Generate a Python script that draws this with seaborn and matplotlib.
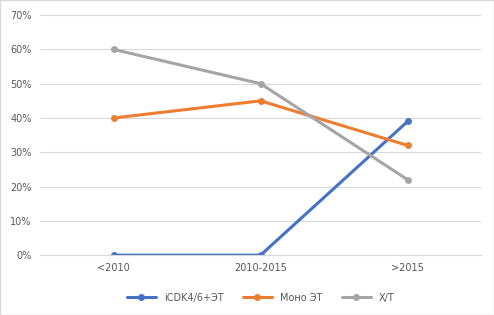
import matplotlib
matplotlib.use("Agg")
import matplotlib.pyplot as plt
import seaborn as sns
import pandas as pd
from matplotlib.ticker import PercentFormatter

# ---------------------------------------------
# Данные
# ---------------------------------------------
periods = ["<2010", "2010-2015", ">2015"]
cdk = [0, 0, 39]
mono = [40, 45, 32]
chemo = [60, 50, 22]
series_names = ["iCDK4/6+ЭТ", "Моно ЭТ", "Х/Т"]
colors = ["#4472C4", "#ED7D31", "#A5A5A5"]

df = pd.DataFrame({
    "period": periods * 3,
    "value": cdk + mono + chemo,
    "series": [s for s in series_names for _ in periods],
})

sns.set_style("white")
plt.rcParams["font.family"] = ["DejaVu Sans"]

fig = plt.figure(figsize=(4.94, 3.15), dpi=100)
ax = fig.add_axes([0.081, 0.19, 0.893, 0.762])

sns.lineplot(data=df, x="period", y="value", hue="series",
             palette=colors, marker="o", markersize=5, markeredgewidth=0,
             linewidth=2.2, sort=False, ax=ax)

ax.set_xlim(-0.5, 2.5)
ax.set_ylim(0, 70)
ax.set_yticks(range(0, 71, 10))
ax.yaxis.set_major_formatter(PercentFormatter(decimals=0))
ax.grid(axis="y", color="#D9D9D9", linewidth=0.8)
ax.set_axisbelow(True)
for s in ["top", "right", "left"]:
    ax.spines[s].set_visible(False)
ax.spines["bottom"].set_color("#D9D9D9")
ax.tick_params(axis="both", length=0, labelsize=7, colors="#595959", pad=6)
ax.set_xlabel("")
ax.set_ylabel("")

ax.legend(loc="upper center", bbox_to_anchor=(0.5, -0.12), ncol=3,
          frameon=False, fontsize=7, labelcolor="#595959",
          handlelength=3, columnspacing=2)

fig.patches.append(plt.Rectangle((0, 0), 1, 1, transform=fig.transFigure,
                                 fill=False, edgecolor="#D9D9D9", linewidth=1))

fig.savefig("out.png", dpi=100)
